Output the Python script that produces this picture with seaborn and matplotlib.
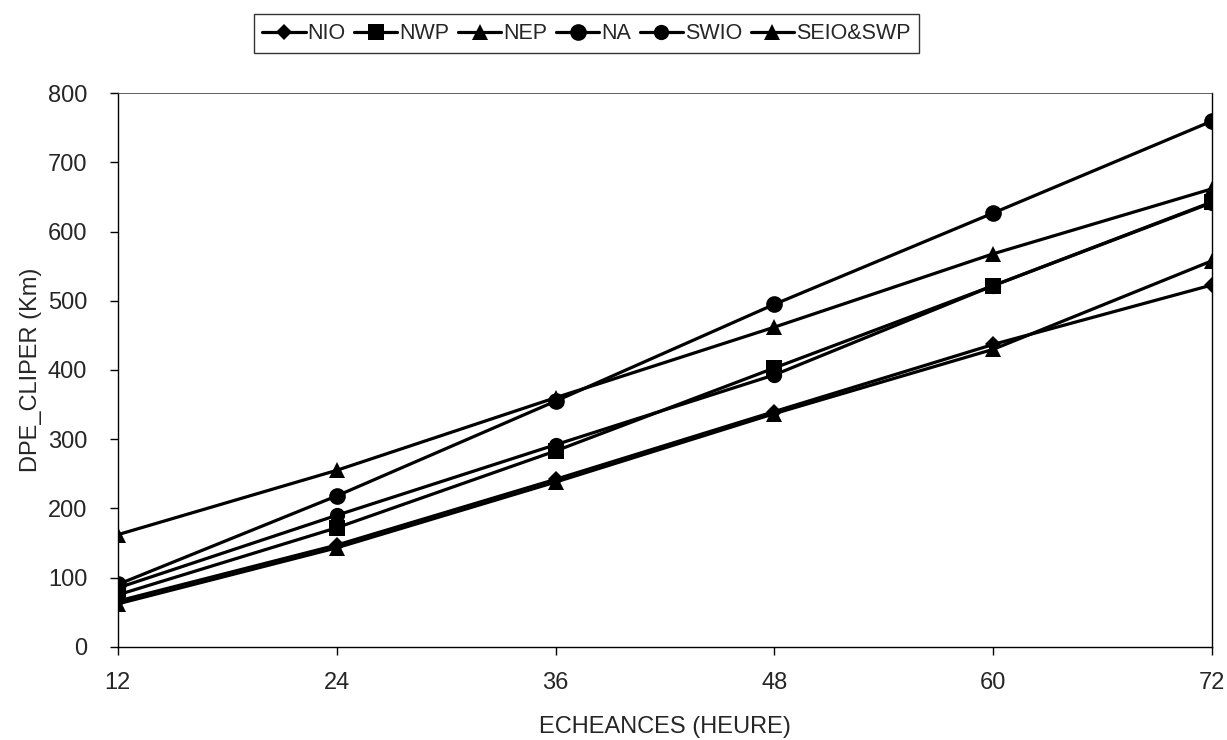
import matplotlib
matplotlib.use("Agg")
import matplotlib.pyplot as plt
import seaborn as sns

# Data
echeances = [12, 24, 36, 48, 60, 72]
series_names = ["NIO", "NWP", "NEP", "NA", "SWIO", "SEIO&SWP"]
nio = [66, 147, 242, 340, 437, 523]
nwp = [75, 172, 283, 403, 522, 643]
nep = [162, 255, 360, 462, 568, 662]
na = [90, 218, 355, 495, 627, 760]
swio = [85, 190, 292, 393, 522, 642]
seio_swp = [62, 143, 238, 337, 430, 558]

values = dict(zip(series_names, [nio, nwp, nep, na, swio, seio_swp]))
markers = {"NIO": "D", "NWP": "s", "NEP": "^", "NA": "o", "SWIO": "o", "SEIO&SWP": "^"}
msizes = {"NIO": 8.5, "NWP": 11.5, "NEP": 11, "NA": 12, "SWIO": 11, "SEIO&SWP": 11}
# squares sit on top of the SWIO circles in the original
zorders = {"NIO": 3, "NWP": 6, "NEP": 3, "NA": 3, "SWIO": 4, "SEIO&SWP": 3}

sns.set_style("white")
plt.rcParams["font.family"] = ["Liberation Sans", "DejaVu Sans"]

fig, ax = plt.subplots(figsize=(12.27, 7.4), dpi=100)
fig.subplots_adjust(left=0.096, right=0.988, top=0.874, bottom=0.126)

for name in series_names:
    sns.lineplot(x=echeances, y=values[name], color="black", marker=markers[name],
                 markersize=msizes[name], markeredgewidth=0, linewidth=2.3,
                 label=name, zorder=zorders[name], ax=ax)

ax.set_xlim(12, 72)
ax.set_ylim(0, 800)
ax.set_xticks(echeances)
ax.set_yticks(range(0, 801, 100))
ax.tick_params(axis="both", labelsize=17, direction="out", length=6, width=1,
               color="black", left=True, bottom=True)
ax.tick_params(axis="x", pad=12)
ax.tick_params(axis="y", pad=16)
for s in ax.spines.values():
    s.set_color("black")
    s.set_linewidth(1)
ax.spines["top"].set_linewidth(0.6)
ax.spines["top"].set_color("#444444")

ax.set_xlabel("ECHEANCES (HEURE)", fontsize=17, labelpad=16)
ax.set_ylabel("DPE_CLIPER (Km)", fontsize=17, labelpad=4)

handles, labels = ax.get_legend_handles_labels()
ax.get_legend().remove()
leg = fig.legend(handles, labels, loc="upper center", bbox_to_anchor=(0.478, 0.995),
                 ncol=6, fontsize=15.5, frameon=True, fancybox=False,
                 handlelength=2.0, handletextpad=0.1, columnspacing=0.4,
                 borderpad=0.4)
leg.get_frame().set_edgecolor("black")
leg.get_frame().set_linewidth(1)

fig.savefig("out.png", dpi=100, facecolor="white")
